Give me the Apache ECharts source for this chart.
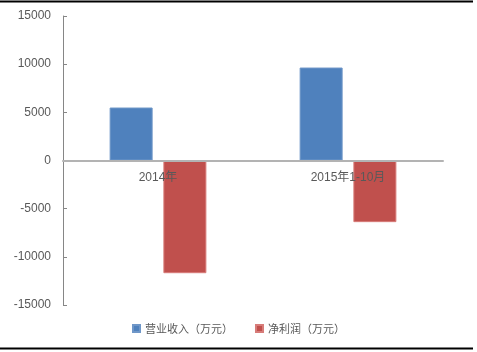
<!DOCTYPE html>
<html><head><meta charset="utf-8">
<script src="https://cdn.jsdelivr.net/npm/echarts@6/dist/echarts.min.js"></script>
<style>html,body{margin:0;padding:0;background:#fff}#c{width:477px;height:352px}</style>
</head><body><div id="c"></div>
<script>
const categories = ['2014年', '2015年1-10月'];
const revenue = [5500, 9650];
const netProfit = [-11700, -6400];
const seriesNames = ['营业收入（万元）', '净利润（万元）'];
const yTicks = { min: -15000, max: 15000, interval: 5000 };

const chart = echarts.init(document.getElementById('c'));
chart.setOption({
  animation: false,
  backgroundColor: '#fff',
  textStyle: { fontFamily: 'Liberation Sans, Arial, sans-serif' },
  graphic: [
    { type: 'line', shape: { x1: 0, y1: 1.5, x2: 473, y2: 1.5 }, style: { stroke: '#000', lineWidth: 2 } },
    { type: 'line', shape: { x1: 0, y1: 348.5, x2: 473, y2: 348.5 }, style: { stroke: '#000', lineWidth: 2 } }
  ],
  grid: { left: 63, right: 34, top: 16, bottom: 47, containLabel: false },
  legend: {
    bottom: 13, left: 'center', itemWidth: 7, itemHeight: 7, itemGap: 22,
    icon: 'rect',
    textStyle: { color: '#595959', fontSize: 11, fontFamily: 'Noto Sans CJK SC' },
    data: seriesNames
  },
  xAxis: {
    type: 'category', data: categories, z: 5,
    axisLine: { onZero: true, lineStyle: { color: '#b3b3b3', width: 2 } },
    axisTick: { show: false },
    axisLabel: { color: '#595959', fontSize: 12, margin: -133, fontFamily: 'Liberation Sans, Noto Sans CJK SC' },
    splitLine: { show: false }
  },
  yAxis: {
    type: 'value', min: yTicks.min, max: yTicks.max, interval: yTicks.interval,
    axisLine: { show: true, lineStyle: { color: '#868686', width: 1 } },
    axisTick: { show: true, inside: true, length: 4, lineStyle: { color: '#868686' } },
    axisLabel: { color: '#595959', fontSize: 12, margin: 12, formatter: v => String(v) },
    splitLine: { show: false }
  },
  series: [
    { name: seriesNames[0], type: 'bar', data: revenue, barWidth: 43, barGap: '25%',
      itemStyle: { color: '#4f81bd', borderColor: '#6f97c8', borderWidth: 1 } },
    { name: seriesNames[1], type: 'bar', data: netProfit, barWidth: 43, barGap: '25%',
      itemStyle: { color: '#c0504d', borderColor: '#d77c79', borderWidth: 1 } }
  ]
});
</script></body></html>
